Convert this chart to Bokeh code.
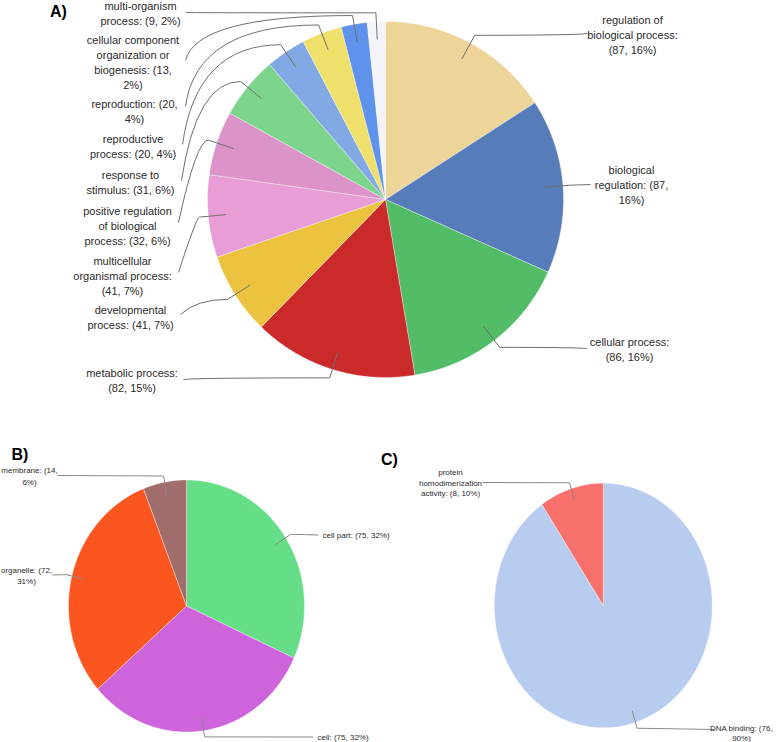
import textwrap
import numpy as np
from bokeh.plotting import figure
from bokeh.models import Range1d
from bokeh.embed import file_html
from bokeh.resources import INLINE
from bokeh.core.properties import value

# ---------------- data ----------------
a_terms = ["regulation of biological process", "biological regulation", "cellular process",
           "metabolic process", "developmental process", "multicellular organismal process",
           "positive regulation of biological process", "response to stimulus",
           "reproductive process", "reproduction",
           "cellular component organization or biogenesis", "multi-organism process"]
a_counts = [87, 87, 86, 82, 41, 41, 32, 31, 20, 20, 13, 9]
a_colors = ["#EDD498", "#577CBA", "#52BC66", "#CB2A2B", "#EBC33F", "#E89DD6",
            "#DC93C9", "#7DD58D", "#82A9E3", "#EFE06B", "#5F92EA", "#F3F3FA"]

b_terms = ["cell part", "cell", "organelle", "membrane"]
b_counts = [75, 75, 72, 14]
b_colors = ["#66DE88", "#CE64DC", "#FC5620", "#A06C6C"]

c_terms = ["DNA binding", "protein homodimerization activity"]
c_counts = [76, 8]
c_colors = ["#B8CCF0", "#F8706C"]

panel_titles = ["A)", "B)", "C)"]

# ---------------- layout (page pixel coordinates) ----------------
W, H = 778, 742
FONT = "Liberation Sans"
TXT = "#2b2b2b"

p = figure(width=W, height=H, x_range=Range1d(0, W), y_range=Range1d(H, 0),
           output_backend="svg", toolbar_location=None, min_border=0,
           x_axis_location=None, y_axis_location=None)
p.grid.visible = False
p.outline_line_color = None
p.background_fill_color = "white"
p.border_fill_color = "white"


def slices(counts, cx, cy, rx, ry):
    total = float(sum(counts))
    edges = np.concatenate([[0.0], np.cumsum(counts)]) / total * 2 * np.pi
    xs, ys, mids = [], [], []
    for a0, a1 in zip(edges[:-1], edges[1:]):
        t = np.linspace(a0, a1, int(2 * np.degrees(a1 - a0)) + 3)
        xs.append(np.concatenate([[cx], cx + rx * np.sin(t)]))
        ys.append(np.concatenate([[cy], cy - ry * np.cos(t)]))
        mids.append((a0 + a1) / 2)
    return xs, ys, np.array(mids)


def labels(terms, counts, widths):
    total = sum(counts)
    out = []
    for t, c, w in zip(terms, counts, widths):
        s = f"{t}: ({c}, {round(100 * c / total)}%)"
        out.append("\n".join(textwrap.wrap(s, width=w, break_on_hyphens=False)))
    return out


def draw_pie(counts, colors, cx, cy, rx, ry, targets, ctrl_x, link_color):
    xs, ys, mids = slices(counts, cx, cy, rx, ry)
    p.patches(xs, ys, fill_color=colors, line_color="white", line_width=0.6, line_alpha=0.6)
    ix = cx + 0.9 * rx * np.sin(mids)
    iy = cy - 0.9 * ry * np.cos(mids)
    ex = cx + 1.05 * rx * np.sin(mids)
    ey = cy - 1.05 * ry * np.cos(mids)
    p.segment(ix, iy, ex, ey, line_color=link_color, line_width=1)
    tx = [t[0] for t in targets]
    ty = [t[1] for t in targets]
    cxs = [c if c is not None else (e + t) / 2 for c, e, t in zip(ctrl_x, ex, tx)]
    cys = [e if c is not None else (e + t) / 2 for c, e, t in zip(ctrl_x, ey, ty)]
    p.quadratic(x0=ex, y0=ey, x1=tx, y1=ty, cx=cxs, cy=cys, line_color=link_color, line_width=1)


# ---- Panel A ----
a_targets = [(587, 33), (590, 184), (586, 348), (183, 379), (180, 314), (178, 272),
             (178, 222), (181, 180), (182, 144), (185, 106), (185, 60), (185, 12)]
a_ctrl = [574, 574, 574, 196, 196, 196, 196, 196, 196, 196, 196, 196]
draw_pie(a_counts, a_colors, 385, 199, 178, 178, a_targets, a_ctrl, "#6f6f6f")
a_text_pos = [(632, 34.5), (631, 184.5), (629, 348.5), (131.5, 379.7), (130, 317), (122, 275),
              (127, 225), (130, 182.3), (132.5, 146.3), (134, 111.3), (132.5, 61.5), (140, 13)]
p.text([q[0] for q in a_text_pos], [q[1] for q in a_text_pos],
       text=labels(a_terms, a_counts, [19] * len(a_terms)),
       text_font=value(FONT), text_font_size="11px", text_color=TXT, text_align="center",
       text_baseline="middle", text_line_height=1.25)

# ---- Panel B ----
b_targets = [(318, 534.5), (313, 736.5), (52, 574.5), (57, 475)]
b_ctrl = [None, None, None, None]
draw_pie(b_counts, b_colors, 186, 605.5, 118, 126, b_targets, b_ctrl, "#8a8a8a")
b_lab = labels(b_terms, b_counts, [30, 30, 17, 17])
p.text([322, 317], [534.5, 736.5], text=b_lab[:2], text_font=value(FONT), text_font_size="8px",
       text_color=TXT, text_align="left", text_baseline="middle", text_line_height=1.25)
p.text([26, 29], [575.5, 476], text=b_lab[2:], text_font=value(FONT), text_font_size="8px",
       text_color=TXT, text_align="center", text_baseline="middle", text_line_height=1.25)

# ---- Panel C ----
c_targets = [(714, 729), (482, 482)]
c_ctrl = [None, None]
draw_pie(c_counts, c_colors, 602.8, 605, 109, 122.3, c_targets, c_ctrl, "#8a8a8a")
c_lab = labels(c_terms, c_counts, [18, 18])
p.text([741, 450], [733, 482.7], text=c_lab, text_font=value(FONT), text_font_size="8px",
       text_color=TXT, text_align="center", text_baseline="middle", text_line_height=1.2)

# ---- panel titles ----
p.text([58, 19.5, 389], [11, 454, 459], text=panel_titles, text_font=value(FONT),
       text_font_size="16px", text_font_style="bold", text_color="black",
       text_align="center", text_baseline="middle")

open("out.html", "w").write(file_html(p, INLINE))
